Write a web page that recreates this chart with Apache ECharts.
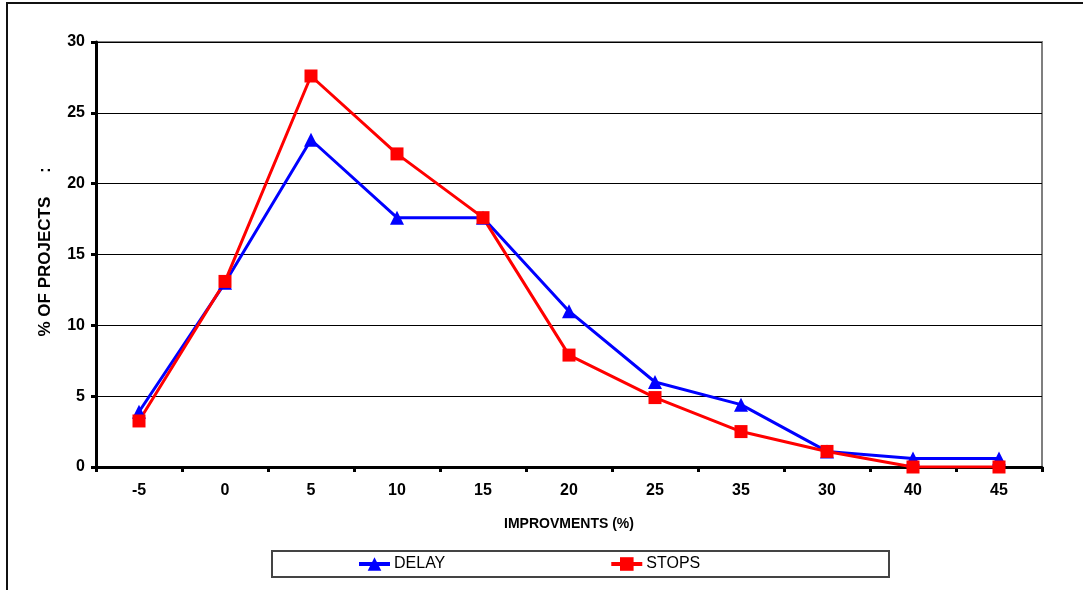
<!DOCTYPE html>
<html>
<head>
<meta charset="utf-8">
<script src="https://cdn.jsdelivr.net/npm/echarts@6/dist/echarts.min.js"></script>
<style>
  html, body { margin: 0; padding: 0; background: #fff; }
  #chart { width: 1083px; height: 590px; }
</style>
</head>
<body>
<div id="chart"></div>
<script>
// categories as printed on the chart (35 really comes before 30)
const categories = ['-5', '0', '5', '10', '15', '20', '25', '35', '30', '40', '45']
const delay = [3.9, 13.0, 23.1, 17.6, 17.6, 11.0, 6.0, 4.4, 1.1, 0.6, 0.6]
const stops = [3.25, 13.1, 27.6, 22.1, 17.6, 7.9, 4.9, 2.5, 1.1, 0.0, 0.0]
const yTicks = { min: 0, max: 30, interval: 5 }

const font = '"Liberation Sans", Arial, sans-serif'

const chart = echarts.init(document.getElementById('chart'))

chart.setOption({
  animation: false,
  textStyle: { fontFamily: font },
  grid: {
    left: 96,
    right: 41,
    top: 42,
    bottom: 123,
    show: true,
    borderColor: '#7f7f7f',
    borderWidth: 2
  },
  graphic: [
    {
      // outer chart frame
      type: 'rect',
      shape: { x: 7, y: 3, width: 1100, height: 620 },
      style: { fill: 'none', stroke: '#111', lineWidth: 2 }
    },
    {
      // legend frame
      type: 'rect',
      shape: { x: 272, y: 551, width: 617, height: 26 },
      style: { fill: 'none', stroke: '#444', lineWidth: 2 }
    },
    {
      // y axis title
      type: 'text',
      x: 45,
      y: 252,
      rotation: Math.PI / 2,
      style: {
        text: '% OF PROJECTS     :',
        font: 'bold 17px ' + font,
        fill: '#000',
        align: 'center',
        verticalAlign: 'middle'
      }
    }
  ],
  legend: {
    left: 357,
    top: 556,
    padding: 0,
    itemGap: 164,
    itemWidth: 31,
    itemHeight: 17,
    lineStyle: { width: 4 },
    textStyle: { fontFamily: font, fontSize: 16, color: '#000', padding: [0, 0, 0, -1] },
    data: ['DELAY', 'STOPS']
  },
  xAxis: {
    type: 'category',
    data: categories,
    boundaryGap: true,
    name: 'IMPROVMENTS (%)',
    nameLocation: 'middle',
    nameGap: 50,
    nameTextStyle: { fontFamily: font, fontWeight: 'bold', fontSize: 14, color: '#000' },
    axisLine: { lineStyle: { color: '#000', width: 3 } },
    axisTick: { show: true, length: 5, interval: 0, lineStyle: { color: '#000', width: 3 } },
    axisLabel: { fontFamily: font, fontWeight: 'bold', fontSize: 16, color: '#000', margin: 16, interval: 0 },
    splitLine: { show: false }
  },
  yAxis: {
    type: 'value',
    min: yTicks.min,
    max: yTicks.max,
    interval: yTicks.interval,
    axisLine: { show: true, lineStyle: { color: '#000', width: 3 } },
    axisTick: { show: true, length: 5, lineStyle: { color: '#000', width: 3 } },
    axisLabel: { fontFamily: font, fontWeight: 'bold', fontSize: 16, color: '#000', margin: 11 },
    splitLine: { show: true, lineStyle: { color: '#000', width: 1 } }
  },
  series: [
    {
      name: 'DELAY',
      type: 'line',
      data: delay,
      symbol: 'triangle',
      symbolSize: 14,
      lineStyle: { color: '#0000ff', width: 3 },
      itemStyle: { color: '#0000ff' }
    },
    {
      name: 'STOPS',
      type: 'line',
      data: stops,
      symbol: 'rect',
      symbolSize: 13,
      lineStyle: { color: '#ff0000', width: 3 },
      itemStyle: { color: '#ff0000' }
    }
  ]
})
</script>
</body>
</html>
